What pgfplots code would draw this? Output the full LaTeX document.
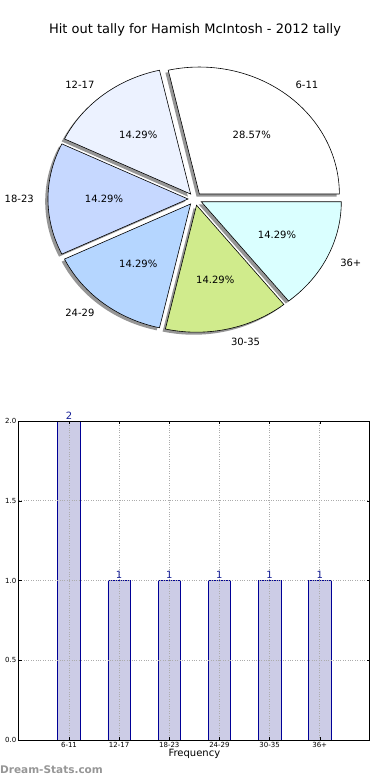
\documentclass[border=0pt]{standalone}
\usepackage{pgfplots}
\pgfplotsset{compat=1.18}
\usepackage{fontspec}
\setmainfont{DejaVu Sans}
\definecolor{cA}{RGB}{255,255,255}
\definecolor{cB}{RGB}{236,242,255}
\definecolor{cC}{RGB}{198,216,255}
\definecolor{cD}{RGB}{181,214,255}
\definecolor{cE}{RGB}{208,235,140}
\definecolor{cF}{RGB}{218,255,255}
\definecolor{shad}{RGB}{150,150,150}
\definecolor{barfill}{RGB}{204,204,230}
\definecolor{baredge}{RGB}{0,0,150}
\definecolor{valcol}{RGB}{20,30,150}
\definecolor{wm}{RGB}{150,150,150}
% pie geometry (pixels from top-left; y measured downward): centre, radii, explode
\def\cx{195}\def\cy{199}\def\rx{140}\def\ry{127}\def\ex{0.05}
\newcommand\pieshadow[2]{%
  \addplot[draw=none, fill=shad, domain=#1:#2, samples=80]
    ({\cx+\ex*\rx*cos((#1+#2)/2)-0.02*\rx+\rx*cos(x)},
     {-\cy+\ex*\ry*sin((#1+#2)/2)-0.02*\ry+\ry*sin(x)})
    -- (axis cs:{\cx+\ex*\rx*cos((#1+#2)/2)-0.02*\rx},{-\cy+\ex*\ry*sin((#1+#2)/2)-0.02*\ry}) -- cycle;}
\newcommand\pieslice[3]{%
  \addplot[draw=black, line width=0.6pt, line join=miter, fill=#3, domain=#1:#2, samples=80]
    ({\cx+\ex*\rx*cos((#1+#2)/2)+\rx*cos(x)},
     {-\cy+\ex*\ry*sin((#1+#2)/2)+\ry*sin(x)})
    -- (axis cs:{\cx+\ex*\rx*cos((#1+#2)/2)},{-\cy+\ex*\ry*sin((#1+#2)/2)}) -- cycle;}
\newcommand\pielabel[4]{% start, end, label, anchor
  \node[anchor=#4, inner sep=0pt, font=\fontsize{10}{12}\selectfont]
    at (axis cs:{\cx+(\ex+1.1)*\rx*cos((#1+#2)/2)},{-\cy+(\ex+1.1)*\ry*sin((#1+#2)/2)}) {#3};}
\newcommand\piepct[3]{%
  \node[inner sep=0pt, font=\fontsize{10}{12}\selectfont]
    at (axis cs:{\cx+(\ex+0.6)*\rx*cos((#1+#2)/2)},{-\cy+(\ex+0.6)*\ry*sin((#1+#2)/2)}) {#3};}
\begin{document}
\begin{tikzpicture}[x=1pt,y=1pt]
\useasboundingbox (0,0) rectangle (390,780);
% title
\node[font=\fontsize{13}{15}\selectfont] at (195,750) {Hit out tally for Hamish McIntosh - 2012 tally};
% pie: counts 2,1,1,1,1,1 of 7 -> angles
\begin{axis}[at={(0pt,780pt)}, anchor=origin, scale only axis, width=390pt, height=390pt,
  xmin=0, xmax=390, ymin=-390, ymax=0, hide axis, clip=false]
\pieshadow{0}{102.857}
\pieshadow{102.857}{154.286}
\pieshadow{154.286}{205.714}
\pieshadow{205.714}{257.143}
\pieshadow{257.143}{308.571}
\pieshadow{308.571}{360}
\pieslice{0}{102.857}{cA}
\pieslice{102.857}{154.286}{cB}
\pieslice{154.286}{205.714}{cC}
\pieslice{205.714}{257.143}{cD}
\pieslice{257.143}{308.571}{cE}
\pieslice{308.571}{360}{cF}
\pielabel{0}{102.857}{6-11}{west}
\pielabel{102.857}{154.286}{12-17}{east}
\pielabel{154.286}{205.714}{18-23}{east}
\pielabel{205.714}{257.143}{24-29}{east}
\pielabel{257.143}{308.571}{30-35}{west}
\pielabel{308.571}{360}{36+}{west}
\piepct{0}{102.857}{28.57\%}
\piepct{102.857}{154.286}{14.29\%}
\piepct{154.286}{205.714}{14.29\%}
\piepct{205.714}{257.143}{14.29\%}
\piepct{257.143}{308.571}{14.29\%}
\piepct{308.571}{360}{14.29\%}
\end{axis}
% bar chart
\begin{axis}[at={(69pt,40pt)}, anchor=origin, scale only axis, width=351pt, height=319pt,
  xmin=-1, xmax=6, ymin=0, ymax=2,
  xtick={0,1,2,3,4,5}, xticklabels={6-11,12-17,18-23,24-29,30-35,36+},
  ytick={0,0.5,1,1.5,2},
  yticklabel style={/pgf/number format/fixed, /pgf/number format/fixed zerofill, /pgf/number format/precision=1, xshift=1pt},
  /pgf/number format/assume math mode=true,
  tick label style={font=\fontsize{7}{8}\selectfont},
  xticklabel style={yshift=1pt},
  tick align=inside, major tick length=3pt, tick style={black, line width=0.4pt},
  grid=major, grid style={dotted, gray!65, line width=0.6pt},
  axis on top, axis line style={black, line width=0.8pt},
  xlabel={Frequency}, xlabel style={font=\fontsize{10}{12}\selectfont, yshift=5pt},
  ]
\addplot[ybar, bar width=0.45, fill=barfill, draw=baredge, line width=0.7pt,
  nodes near coords, nodes near coords style={font=\fontsize{10}{12}\selectfont, text=valcol, inner sep=1.5pt},
  point meta=y, /pgf/number format/int detect]
  coordinates {(0,2) (1,1) (2,1) (3,1) (4,1) (5,1)};
\end{axis}
\node[anchor=west, inner sep=0pt, text=wm, font=\bfseries\fontsize{10.5}{12}\selectfont] at (0,10) {Dream-Stats.com};
\end{tikzpicture}
\end{document}
